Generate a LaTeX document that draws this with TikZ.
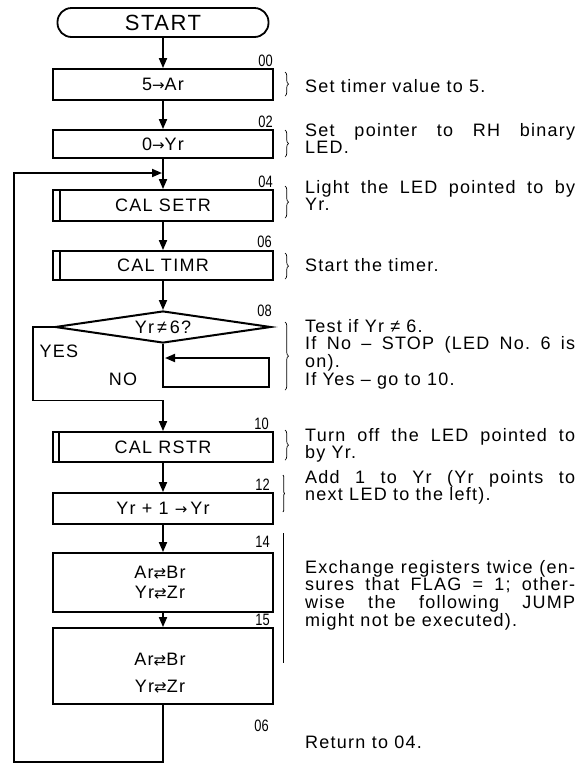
\documentclass[tikz,border=0pt]{standalone}
\usepackage{fontspec}
\usepackage{graphicx}
\setmainfont{Liberation Sans}[LetterSpace=7]
\newfontfamily\symf{DejaVu Sans}
\newfontfamily\numf{Liberation Sans}
\usetikzlibrary{arrows.meta,shapes.geometric,decorations.pathreplacing}
\frenchspacing
\newcommand\Jl[1]{\hbox to 270pt{#1}}
\newcommand\Nl[1]{\hbox{#1}}
\newcommand\xch{{\symf\fontsize{15}{15}\selectfont ⇄}}
\newcommand\rarr{{\symf\fontsize{15}{15}\selectfont →}}
\newcommand\stepno[1]{\scalebox{0.78}[1]{\numf #1}}
\newcommand\notepar[1]{\vtop{\frenchspacing\baselineskip=17.8pt #1}}
\begin{document}
\begin{tikzpicture}[x=1pt,y=-1pt,
  every node/.style={font=\fontsize{18}{18}\selectfont},
  flow/.style={line width=1.8pt},
  arr/.style={flow,-{Triangle[length=10pt,width=8pt]}},
  box/.style={draw,line width=1.8pt,minimum width=220pt,inner sep=0pt},
  lbl/.style={anchor=base east,inner sep=0pt,font=\fontsize{16.5}{16.5}\selectfont},
  brc/.style={decorate,decoration={brace,amplitude=3.5pt},line width=0.7pt},
  note/.style={anchor=base west,inner sep=0pt},
]
\fill[white] (0,0) rectangle (577,764);
\useasboundingbox (0,0) rectangle (577,764);

% flow nodes
\node[draw,line width=1.8pt,rounded corners=14pt,minimum width=211pt,minimum height=29pt,inner sep=0pt,font=\fontsize{22}{22}\selectfont] (start) at (163,22.5) {START};
\node[box,minimum height=31pt] (b00) at (163,84.5) {5\rarr Ar};
\node[box,minimum height=28pt] (b02) at (163,144) {0\rarr Yr};
\node[box,minimum height=31pt] (b04) at (163,205.5) {CAL SETR};
\node[box,minimum height=29pt] (b06) at (163,265.5) {CAL TIMR};
\node[draw,diamond,line width=2pt,minimum width=216pt,minimum height=32pt,inner sep=0pt,aspect=6.75] (d08) at (163,327) {Yr\,≠\,6?};
\node[box,minimum height=30pt] (b10) at (163,447) {CAL RSTR};
\node[box,minimum height=31pt] (b12) at (163,508.5) {Yr + 1 \rarr\,Yr};
\node[box,minimum height=59pt] (b14) at (163,582.5) {};
\node[box,minimum height=76pt] (b15) at (163,666) {};
\node (t14a) at (160,573) {Ar\xch Br};
\node (t14b) at (160,593) {Yr\xch Zr};
\node (t15a) at (160,660) {Ar\xch Br};
\node (t15b) at (160,687) {Yr\xch Zr};

% subroutine double lines
\draw[line width=1.3pt] ([xshift=8pt]b04.north west) -- ([xshift=8pt]b04.south west);
\draw[line width=1.3pt] ([xshift=8pt]b06.north west) -- ([xshift=8pt]b06.south west);
\draw[line width=1.3pt] ([xshift=7pt]b10.north west) -- ([xshift=7pt]b10.south west);

% step labels
\node[lbl] (l00) at (273,66) {\stepno{00}};
\node[lbl] (l02) at (273,127) {\stepno{02}};
\node[lbl] (l04) at (273,187) {\stepno{04}};
\node[lbl] (l06) at (272,247) {\stepno{06}};
\node[lbl] (l08) at (272,316) {\stepno{08}};
\node[lbl] (l10) at (269,429) {\stepno{10}};
\node[lbl] (l12) at (270,490) {\stepno{12}};
\node[lbl] (l14) at (270,547) {\stepno{14}};
\node[lbl] (l15) at (270,625) {\stepno{15}};
\node[lbl] (l06b) at (269,731) {\stepno{06}};

% branch labels
\node (yes) at (59,351) {YES};
\node (no) at (123,379) {NO};

% connectors
\draw[arr] (start) -- (b00);
\draw[arr] (b00) -- (b02);
\draw[arr] (b02) -- (b04);
\draw[arr] (b04) -- (b06);
\draw[arr] (b06) -- (d08);
\coordinate (y1) at (33,327);
\coordinate (y2) at (33,400.5);
\coordinate (y3) at (163,400.5);
\draw[arr] (d08.west) -- (y1) -- (y2) -- (y3) -- (b10.north);
\coordinate (n1) at (163,387);
\coordinate (n2) at (269,387);
\coordinate (n3) at (269,358);
\coordinate (n4) at (165,358);
\draw[arr] (d08.south) -- (n1) -- (n2) -- (n3) -- (n4);
\draw[arr] (b10) -- (b12);
\draw[arr] (b12) -- (b14);
\draw[arr] (b14) -- (b15);
\coordinate (lbot) at (163,762);
\coordinate (lleft) at (14,762);
\coordinate (ltop) at (14,173);
\coordinate (ltip) at (162,173);
\draw[arr] (b15.south) -- (lbot) -- (lleft) -- (ltop) -- (ltip);

% braces
\draw[brc] (285,72) -- (285,96);
\draw[brc] (285,130) -- (285,157);
\draw[brc] (285,186) -- (285,218);
\draw[brc] (285,253) -- (285,279);
\draw[brc] (285,322) -- (285,390);
\draw[brc] (285,430) -- (285,460);
\draw[brc,decoration={brace,amplitude=1.5pt}] (283,475) -- (283,512);
\draw[line width=0.7pt] (283,533) -- (283,663);

% notes
\node[note] (c00) at (305,92) {\notepar{\Nl{Set timer value to 5.}}};
\node[note] (c02) at (305,136) {\notepar{\Jl{Set pointer to RH binary}\Nl{LED.}}};
\node[note] (c04) at (305,193) {\notepar{\Jl{Light the LED pointed to by}\Nl{Yr.}}};
\node[note] (c06) at (305,271) {\notepar{\Nl{Start the timer.}}};
\node[note] (c08) at (305,332) {\notepar{\Nl{Test if Yr ≠ 6.}\Jl{If No – STOP (LED No. 6 is}\Nl{on).}\Nl{If Yes – go to 10.}}};
\node[note] (c10) at (305,441) {\notepar{\Jl{Turn off the LED pointed to}\Nl{by Yr.}}};
\node[note] (c12) at (305,483) {\notepar{\Jl{Add 1 to Yr (Yr points to}\Nl{next LED to the left).}}};
\node[note] (c14) at (305,573) {\notepar{\Jl{Exchange registers twice (en-}\Jl{sures that FLAG = 1; other-}\Jl{wise the following JUMP}\Nl{might not be executed).}}};
\node[note] (c16) at (305,748) {\notepar{\Nl{Return to 04.}}};
\end{tikzpicture}
\end{document}
